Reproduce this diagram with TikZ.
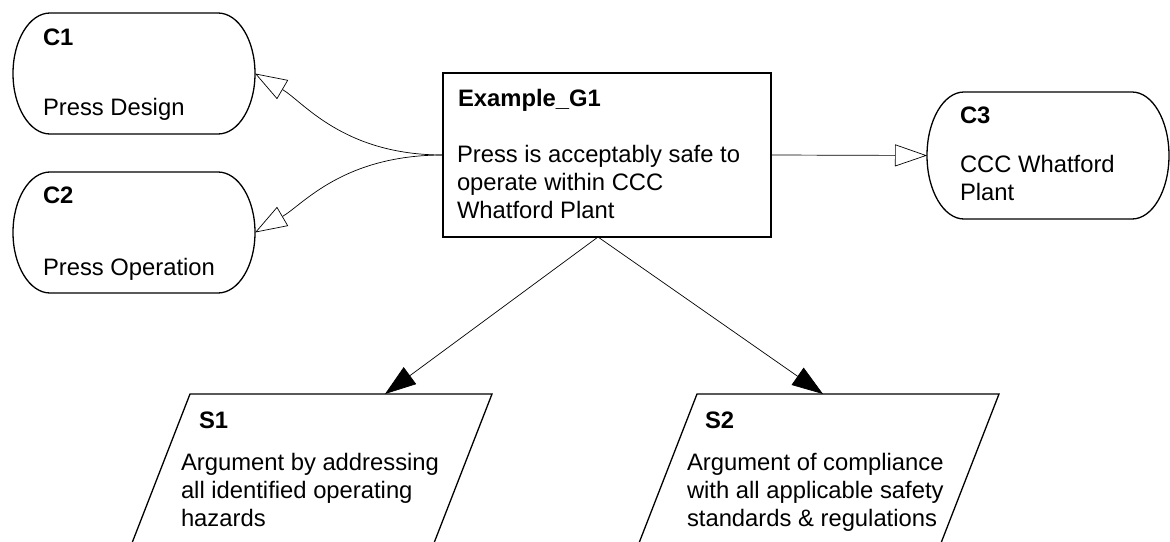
\documentclass[tikz,border=0pt]{standalone}
\usepackage{fontspec}
\setmainfont{Liberation Sans}
\usetikzlibrary{arrows.meta,calc}
\begin{document}
\begin{tikzpicture}[x=1pt,y=1pt,
  every node/.style={font=\fontsize{23.8}{28}\selectfont, inner sep=0pt, outer sep=0pt},
  txt/.style={anchor=base west},
  ttl/.style={anchor=base west, font=\fontsize{23.8}{28}\selectfont\bfseries},
  ctxbox/.style={rectangle, anchor=north west, minimum width=242, minimum height=121},
  strbox/.style={rectangle, anchor=north west, minimum width=302, minimum height=166},
  goalbox/.style={rectangle, draw, line width=1.3pt, anchor=north west, minimum width=328, minimum height=164},
  outline/.style={line width=1.3pt},
  conn/.style={line width=0.7pt},
  openarrow/.style={conn, -{Triangle[open, length=32, width=22, fill=white]}},
  solidarrow/.style={conn, -{Triangle[length=31, width=21]}}
]
\useasboundingbox (0,0) rectangle (1170,-541);

% nodes
\node[ctxbox] (c1) at (13,-13) {};
\node[ctxbox] (c2) at (13,-172) {};
\node[ctxbox, minimum height=127] (c3) at (927,-92) {};
\node[goalbox] (g1) at (443,-73) {};
\node[strbox] (s1) at (190,-394) {};
\node[strbox] (s2) at (697,-394) {};

% context outlines (stadium shapes)
\foreach \n/\r in {c1/60.5, c2/60.5, c3/63.5}{
  \draw[outline] ($(\n.north west)+(37,0)$) -- ($(\n.north east)+(-37,0)$)
    arc[start angle=90, end angle=-90, x radius=37, y radius=\r]
    -- ($(\n.south west)+(37,0)$)
    arc[start angle=270, end angle=90, x radius=37, y radius=\r] -- cycle;
}

% strategy outlines (parallelograms)
\foreach \n in {s1, s2}{
  \draw[outline] (\n.north west) -- (\n.north east)
    -- ($(\n.south east)+(-64.6,0)$) -- ($(\n.south west)+(-64.6,0)$) -- cycle;
}

% texts
\node[ttl] (c1t) at (43,-45) {C1};
\node[txt] (c1a) at (43,-115) {Press Design};
\node[ttl] (c2t) at (43,-203) {C2};
\node[txt] (c2a) at (43,-275) {Press Operation};
\node[ttl] (c3t) at (960,-123) {C3};
\node[txt] (c3a) at (960,-172) {CCC Whatford};
\node[txt] (c3b) at (960,-200) {Plant};
\node[ttl] (g1t) at (458,-106) {Example\_G1};
\node[txt] (g1a) at (457,-162) {Press is acceptably safe to};
\node[txt] (g1b) at (457,-190) {operate within CCC};
\node[txt] (g1c) at (457,-218) {Whatford Plant};
\node[ttl] (s1t) at (199,-428) {S1};
\node[txt] (s1a) at (181,-470) {Argument by addressing};
\node[txt] (s1b) at (181,-498) {all identified operating};
\node[txt] (s1c) at (181,-526) {hazards};
\node[ttl] (s2t) at (705,-428) {S2};
\node[txt] (s2a) at (687,-470) {Argument of compliance};
\node[txt] (s2b) at (687,-498) {with all applicable safety};
\node[txt] (s2c) at (687,-526) {standards \& regulations};

% connection points
\coordinate (g1out) at ($(g1.south)+(-9,0)$);
\coordinate (s1in) at ($(s1.north west)+(195,0)$);
\coordinate (s2in) at ($(s2.north west)+(126,0)$);

% connectors
\draw[openarrow] (g1.west) .. controls +(-100,0) and +(48,-28) .. (c1.east);
\draw[openarrow] (g1.west) .. controls +(-100,0) and +(48,28) .. (c2.east);
\draw[openarrow] (g1.east) -- (c3.west);
\draw[solidarrow] (g1out) -- (s1in);
\draw[solidarrow] (g1out) -- (s2in);
\end{tikzpicture}
\end{document}
